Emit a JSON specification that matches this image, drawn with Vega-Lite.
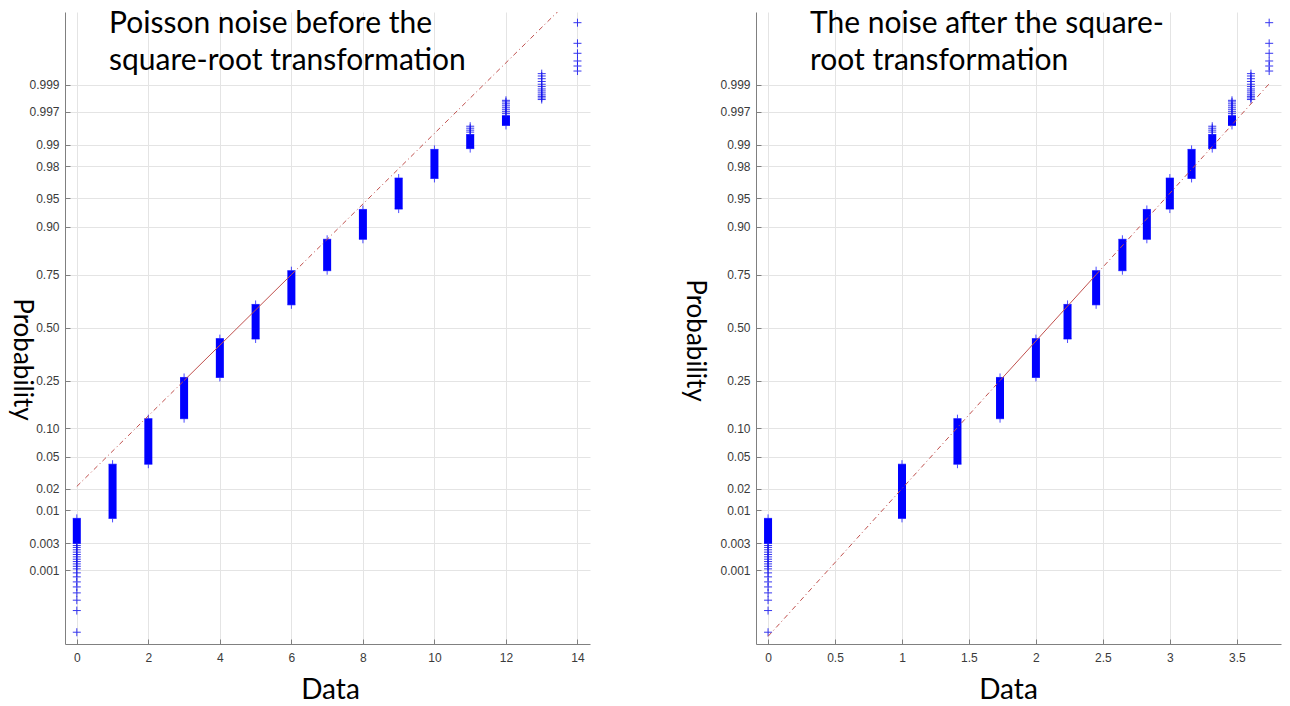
{
  "$schema": "https://vega.github.io/schema/vega-lite/v6.json",
  "background": "white",
  "padding": {"left": 8, "top": 9, "right": 5, "bottom": 0},
  "spacing": 166,
  "bounds": "flush",
  "config": {
    "view": {"stroke": null},
    "axis": {
      "domainColor": "#808080",
      "tickColor": "#808080",
      "gridColor": "#e4e4e4",
      "labelColor": "#3a3a3a",
      "labelFont": "Liberation Sans",
      "labelFontSize": 12,
      "titleFont": "Lato",
      "titleFontWeight": "normal",
      "titleColor": "#000000",
      "tickSize": -5,
      "labelFlush": false,
      "labelOverlap": false,
      "grid": true
    },
    "title": {"font": "Lato", "fontWeight": "normal", "color": "#000000", "fontSize": 30, "lineHeight": 37}
  },
  "datasets": {
    "bars": [
      {"k": 0, "sx": 0, "lo": -2.75, "hi": -2.43},
      {"k": 1, "sx": 1, "lo": -2.43, "hi": -1.74},
      {"k": 2, "sx": 1.4142, "lo": -1.74, "hi": -1.16},
      {"k": 3, "sx": 1.7321, "lo": -1.16, "hi": -0.635},
      {"k": 4, "sx": 2, "lo": -0.635, "hi": -0.14},
      {"k": 5, "sx": 2.2361, "lo": -0.145, "hi": 0.295},
      {"k": 6, "sx": 2.4495, "lo": 0.29, "hi": 0.725},
      {"k": 7, "sx": 2.6458, "lo": 0.725, "hi": 1.125},
      {"k": 8, "sx": 2.8284, "lo": 1.125, "hi": 1.505},
      {"k": 9, "sx": 3, "lo": 1.51, "hi": 1.905},
      {"k": 10, "sx": 3.1623, "lo": 1.9, "hi": 2.27},
      {"k": 11, "sx": 3.3166, "lo": 2.28, "hi": 2.46},
      {"k": 12, "sx": 3.4641, "lo": 2.575, "hi": 2.7}
    ],
    "pts": [
      {"k": 0, "sx": 0, "z": -3.88},
      {"k": 0, "sx": 0, "z": -3.604},
      {"k": 0, "sx": 0, "z": -3.472},
      {"k": 0, "sx": 0, "z": -3.379},
      {"k": 0, "sx": 0, "z": -3.303},
      {"k": 0, "sx": 0, "z": -3.239},
      {"k": 0, "sx": 0, "z": -3.175},
      {"k": 0, "sx": 0, "z": -3.124},
      {"k": 0, "sx": 0, "z": -3.073},
      {"k": 0, "sx": 0, "z": -3.04},
      {"k": 0, "sx": 0, "z": -3.01},
      {"k": 0, "sx": 0, "z": -2.98},
      {"k": 0, "sx": 0, "z": -2.95},
      {"k": 0, "sx": 0, "z": -2.92},
      {"k": 0, "sx": 0, "z": -2.89},
      {"k": 0, "sx": 0, "z": -2.86},
      {"k": 0, "sx": 0, "z": -2.83},
      {"k": 0, "sx": 0, "z": -2.8},
      {"k": 0, "sx": 0, "z": -2.775},
      {"k": 11, "sx": 3.3166, "z": 2.49},
      {"k": 11, "sx": 3.3166, "z": 2.515},
      {"k": 11, "sx": 3.3166, "z": 2.54},
      {"k": 11, "sx": 3.3166, "z": 2.565},
      {"k": 12, "sx": 3.4641, "z": 2.725},
      {"k": 12, "sx": 3.4641, "z": 2.75},
      {"k": 12, "sx": 3.4641, "z": 2.775},
      {"k": 12, "sx": 3.4641, "z": 2.8},
      {"k": 12, "sx": 3.4641, "z": 2.825},
      {"k": 12, "sx": 3.4641, "z": 2.85},
      {"k": 12, "sx": 3.4641, "z": 2.875},
      {"k": 12, "sx": 3.4641, "z": 2.895},
      {"k": 13, "sx": 3.6056, "z": 2.905},
      {"k": 13, "sx": 3.6056, "z": 2.925},
      {"k": 13, "sx": 3.6056, "z": 2.945},
      {"k": 13, "sx": 3.6056, "z": 2.965},
      {"k": 13, "sx": 3.6056, "z": 2.99},
      {"k": 13, "sx": 3.6056, "z": 3.015},
      {"k": 13, "sx": 3.6056, "z": 3.04},
      {"k": 13, "sx": 3.6056, "z": 3.07},
      {"k": 13, "sx": 3.6056, "z": 3.1},
      {"k": 13, "sx": 3.6056, "z": 3.135},
      {"k": 13, "sx": 3.6056, "z": 3.17},
      {"k": 13, "sx": 3.6056, "z": 3.205},
      {"k": 13, "sx": 3.6056, "z": 3.235},
      {"k": 14, "sx": 3.7417, "z": 3.268},
      {"k": 14, "sx": 3.7417, "z": 3.332},
      {"k": 14, "sx": 3.7417, "z": 3.396},
      {"k": 14, "sx": 3.7417, "z": 3.494},
      {"k": 14, "sx": 3.7417, "z": 3.621},
      {"k": 14, "sx": 3.7417, "z": 3.884}
    ],
    "refL": [
      {"x": 0, "z": -2.023, "seg": "lo"},
      {"x": 3, "z": -0.6745, "seg": "lo"},
      {"x": 3, "z": -0.6745, "seg": "mid"},
      {"x": 6, "z": 0.6745, "seg": "mid"},
      {"x": 6, "z": 0.6745, "seg": "hi"},
      {"x": 14, "z": 4.273, "seg": "hi"}
    ],
    "refR": [
      {"x": 0, "z": -3.933, "seg": "lo"},
      {"x": 1.7321, "z": -0.6745, "seg": "lo"},
      {"x": 1.7321, "z": -0.6745, "seg": "mid"},
      {"x": 2.4495, "z": 0.6745, "seg": "mid"},
      {"x": 2.4495, "z": 0.6745, "seg": "hi"},
      {"x": 3.7417, "z": 3.106, "seg": "hi"}
    ]
  },
  "hconcat": [
    {
      "width": 525,
      "height": 632,
      "title": {"text": ["Poisson noise before the", "square-root transformation"], "anchor": "start", "frame": "group", "orient": "top", "baseline": "bottom", "offset": 0, "dx": 44, "dy": 94},
      "layer": [
        {
          "data": {"name": "bars"},
          "mark": {"type": "rule", "strokeWidth": 8, "color": "#0000ff", "strokeCap": "butt"},
          "encoding": {
            "x": {"field": "k", "type": "quantitative", "scale": {"domain": [-0.33, 14.35], "nice": false, "zero": false},
              "axis": {"values": [0, 2, 4, 6, 8, 10, 12, 14], "format": "~g", "title": "Data", "labelPadding": 13, "titleFontSize": 28, "titleX": 265, "titleY": 46, "titleBaseline": "middle"}},
            "y": {"field": "lo", "type": "quantitative", "scale": {"domain": [-4.03, 4.02], "nice": false, "zero": false},
              "axis": {"values": [-3.0902, -2.7478, -2.3263, -2.0537, -1.6449, -1.2816, -0.6745, 0, 0.6745, 1.2816, 1.6449, 2.0537, 2.3263, 2.7478, 3.0902],
                "labelExpr": "datum.value < -3 ? '0.001' : datum.value < -2.5 ? '0.003' : datum.value < -2.2 ? '0.01' : datum.value < -1.9 ? '0.02' : datum.value < -1.5 ? '0.05' : datum.value < -1 ? '0.10' : datum.value < -0.5 ? '0.25' : datum.value < 0.5 ? '0.50' : datum.value < 1 ? '0.75' : datum.value < 1.5 ? '0.90' : datum.value < 1.9 ? '0.95' : datum.value < 2.2 ? '0.98' : datum.value < 2.5 ? '0.99' : datum.value < 3 ? '0.997' : '0.999'",
                "title": "Probability", "labelPadding": 11, "titleFontSize": 26, "titleAngle": 90, "titleX": -44, "titleY": 347, "titleBaseline": "middle", "titleAlign": "center"}},
            "y2": {"field": "hi"}
          }
        },
        {
          "data": {"name": "bars"},
          "mark": {"type": "point", "shape": "M-1,0H1M0,-1V1", "size": 64, "filled": false, "stroke": "#0000ff", "strokeWidth": 1},
          "encoding": {"x": {"field": "k", "type": "quantitative"}, "y": {"field": "lo", "type": "quantitative"}}
        },
        {
          "data": {"name": "bars"},
          "mark": {"type": "point", "shape": "M-1,0H1M0,-1V1", "size": 64, "filled": false, "stroke": "#0000ff", "strokeWidth": 1},
          "encoding": {"x": {"field": "k", "type": "quantitative"}, "y": {"field": "hi", "type": "quantitative"}}
        },
        {
          "data": {"name": "pts"},
          "mark": {"type": "point", "shape": "M-1,0H1M0,-1V1", "size": 64, "filled": false, "stroke": "#1515ee", "strokeWidth": 1, "opacity": 0.85},
          "encoding": {"x": {"field": "k", "type": "quantitative"}, "y": {"field": "z", "type": "quantitative"}}
        },
        {
          "data": {"name": "refL"},
          "transform": [{"filter": "datum.seg != 'mid'"}],
          "mark": {"type": "line", "color": "#c0504d", "strokeWidth": 1, "strokeDash": [5, 3, 1, 3], "clip": true},
          "encoding": {"x": {"field": "x", "type": "quantitative"}, "y": {"field": "z", "type": "quantitative"}, "detail": {"field": "seg"}}
        },
        {
          "data": {"name": "refL"},
          "transform": [{"filter": "datum.seg == 'mid'"}],
          "mark": {"type": "line", "color": "#c0504d", "strokeWidth": 1, "clip": true},
          "encoding": {"x": {"field": "x", "type": "quantitative"}, "y": {"field": "z", "type": "quantitative"}}
        }
      ]
    },
    {
      "width": 525,
      "height": 632,
      "title": {"text": ["The noise after the square-", "root transformation"], "anchor": "start", "frame": "group", "orient": "top", "baseline": "bottom", "offset": 0, "dx": 54, "dy": 94},
      "layer": [
        {
          "data": {"name": "bars"},
          "mark": {"type": "rule", "strokeWidth": 8, "color": "#0000ff", "strokeCap": "butt"},
          "encoding": {
            "x": {"field": "sx", "type": "quantitative", "scale": {"domain": [-0.09, 3.83], "nice": false, "zero": false},
              "axis": {"values": [0, 0.5, 1, 1.5, 2, 2.5, 3, 3.5], "format": "~g", "title": "Data", "labelPadding": 13, "titleFontSize": 28, "titleX": 252, "titleY": 46, "titleBaseline": "middle"}},
            "y": {"field": "lo", "type": "quantitative", "scale": {"domain": [-4.03, 4.02], "nice": false, "zero": false},
              "axis": {"values": [-3.0902, -2.7478, -2.3263, -2.0537, -1.6449, -1.2816, -0.6745, 0, 0.6745, 1.2816, 1.6449, 2.0537, 2.3263, 2.7478, 3.0902],
                "labelExpr": "datum.value < -3 ? '0.001' : datum.value < -2.5 ? '0.003' : datum.value < -2.2 ? '0.01' : datum.value < -1.9 ? '0.02' : datum.value < -1.5 ? '0.05' : datum.value < -1 ? '0.10' : datum.value < -0.5 ? '0.25' : datum.value < 0.5 ? '0.50' : datum.value < 1 ? '0.75' : datum.value < 1.5 ? '0.90' : datum.value < 1.9 ? '0.95' : datum.value < 2.2 ? '0.98' : datum.value < 2.5 ? '0.99' : datum.value < 3 ? '0.997' : '0.999'",
                "title": "Probability", "labelPadding": 11, "titleFontSize": 26, "titleAngle": 90, "titleX": -62, "titleY": 328, "titleBaseline": "middle", "titleAlign": "center"}},
            "y2": {"field": "hi"}
          }
        },
        {
          "data": {"name": "bars"},
          "mark": {"type": "point", "shape": "M-1,0H1M0,-1V1", "size": 64, "filled": false, "stroke": "#0000ff", "strokeWidth": 1},
          "encoding": {"x": {"field": "sx", "type": "quantitative"}, "y": {"field": "lo", "type": "quantitative"}}
        },
        {
          "data": {"name": "bars"},
          "mark": {"type": "point", "shape": "M-1,0H1M0,-1V1", "size": 64, "filled": false, "stroke": "#0000ff", "strokeWidth": 1},
          "encoding": {"x": {"field": "sx", "type": "quantitative"}, "y": {"field": "hi", "type": "quantitative"}}
        },
        {
          "data": {"name": "pts"},
          "mark": {"type": "point", "shape": "M-1,0H1M0,-1V1", "size": 64, "filled": false, "stroke": "#1515ee", "strokeWidth": 1, "opacity": 0.85},
          "encoding": {"x": {"field": "sx", "type": "quantitative"}, "y": {"field": "z", "type": "quantitative"}}
        },
        {
          "data": {"name": "refR"},
          "transform": [{"filter": "datum.seg != 'mid'"}],
          "mark": {"type": "line", "color": "#c0504d", "strokeWidth": 1, "strokeDash": [5, 3, 1, 3], "clip": true},
          "encoding": {"x": {"field": "x", "type": "quantitative"}, "y": {"field": "z", "type": "quantitative"}, "detail": {"field": "seg"}}
        },
        {
          "data": {"name": "refR"},
          "transform": [{"filter": "datum.seg == 'mid'"}],
          "mark": {"type": "line", "color": "#c0504d", "strokeWidth": 1, "clip": true},
          "encoding": {"x": {"field": "x", "type": "quantitative"}, "y": {"field": "z", "type": "quantitative"}}
        }
      ]
    }
  ]
}
